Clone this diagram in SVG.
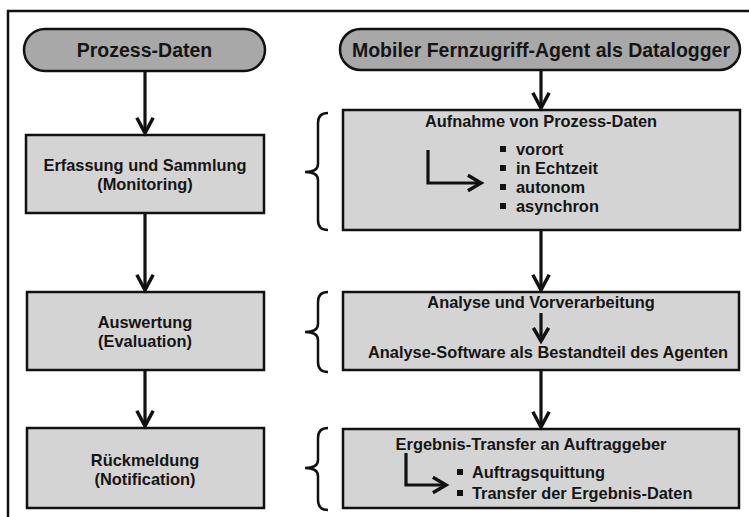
<svg xmlns="http://www.w3.org/2000/svg" width="749" height="517" viewBox="0 0 749 517">
<defs>
<marker id="ah" markerUnits="userSpaceOnUse" markerWidth="24" markerHeight="24" viewBox="-18 -10 22 20" refX="0" refY="0" orient="auto">
<path d="M-14,-7.5 L0,0 L-14,7.5" fill="none" stroke="#111" stroke-width="3.2"/>
</marker>
<marker id="ahs" markerUnits="userSpaceOnUse" markerWidth="24" markerHeight="24" viewBox="-18 -10 22 20" refX="0" refY="0" orient="auto">
<path d="M-12,-7 L0,0 L-12,7" fill="none" stroke="#111" stroke-width="3.2"/>
</marker>
</defs>
<style>
text{font-family:"Liberation Sans",Arial,sans-serif;font-weight:bold;fill:#151515}
.pill{fill:#a8a8a8;stroke:#111;stroke-width:2.5}
.box{fill:#d4d4d4;stroke:#111;stroke-width:2.5}
.t19{font-size:19.5px;text-anchor:middle}
.t16{font-size:16.4px;text-anchor:middle}
.l16{font-size:16.4px}
.conn{stroke:#111;stroke-width:3.2;fill:none;marker-end:url(#ah)}
.inner{stroke:#111;stroke-width:3.2;fill:none;marker-end:url(#ahs)}
.brace{stroke:#111;stroke-width:2.5;fill:none}
.bul{fill:#111}
</style>
<rect x="8" y="11" width="760" height="530" fill="none" stroke="#111" stroke-width="2.5"/>

<g id="proz-daten">
<rect class="pill" x="24" y="29" width="241" height="42" rx="21"/>
<text class="t19" x="144.5" y="57">Prozess-Daten</text>
</g>
<g id="agent">
<rect class="pill" x="340" y="29" width="400" height="41" rx="20.5"/>
<text class="t19" x="541" y="57">Mobiler Fernzugriff-Agent als Datalogger</text>
</g>

<g id="erfassung">
<rect class="box" x="26" y="135" width="238" height="78"/>
<text class="t16" x="145" y="171">Erfassung und Sammlung</text>
<text class="t16" x="145" y="190">(Monitoring)</text>
</g>
<g id="auswertung">
<rect class="box" x="27" y="292" width="237" height="78"/>
<text class="t16" x="145" y="328">Auswertung</text>
<text class="t16" x="145" y="347">(Evaluation)</text>
</g>
<g id="rueckmeldung">
<rect class="box" x="27" y="428" width="237" height="80"/>
<text class="t16" x="145" y="466">Rückmeldung</text>
<text class="t16" x="145" y="485">(Notification)</text>
</g>

<g id="aufnahme">
<rect class="box" x="343" y="110" width="397" height="120"/>
<text class="t16" x="541" y="127">Aufnahme von Prozess-Daten</text>
<path class="inner" d="M428,150 L428,183 L481,183"/>
<rect class="bul" x="500" y="146" width="6" height="6"/>
<rect class="bul" x="500" y="165" width="6" height="6"/>
<rect class="bul" x="500" y="184" width="6" height="6"/>
<rect class="bul" x="500" y="203" width="6" height="6"/>
<text class="l16" x="516" y="155">vorort</text>
<text class="l16" x="516" y="174">in Echtzeit</text>
<text class="l16" x="516" y="193">autonom</text>
<text class="l16" x="516" y="212">asynchron</text>
</g>
<g id="analyse">
<rect class="box" x="343" y="292" width="396" height="78"/>
<text class="t16" x="541" y="308">Analyse und Vorverarbeitung</text>
<path class="inner" d="M541,313 L541,341"/>
<text class="t16" x="548" y="358">Analyse-Software als Bestandteil des Agenten</text>
</g>
<g id="ergebnis">
<rect class="box" x="343" y="429" width="396" height="79"/>
<text class="t16" x="531" y="450">Ergebnis-Transfer an Auftraggeber</text>
<path class="inner" d="M406,453 L406,485 L446,485"/>
<rect class="bul" x="457" y="469" width="6" height="6"/>
<rect class="bul" x="457" y="490" width="6" height="6"/>
<text class="l16" x="472" y="478">Auftragsquittung</text>
<text class="l16" x="472" y="499">Transfer der Ergebnis-Daten</text>
</g>

<g id="braces">
<path class="brace" d="M328,113 Q318,113 318,123 L318,164 Q318,172 305,172 Q318,172 318,180 L318,220 Q318,230 328,230"/>
<path class="brace" d="M328,292 Q318,292 318,302 L318,324 Q318,332 305,332 Q318,332 318,340 L318,362 Q318,372 328,372"/>
<path class="brace" d="M328,428 Q318,428 318,438 L318,460 Q318,468 305,468 Q318,468 318,476 L318,500 Q318,510 328,510"/>
</g>

<g id="connectors">
<path class="conn" d="M145,71 L145,133"/>
<path class="conn" d="M145,213 L145,290"/>
<path class="conn" d="M145,370 L145,426"/>
<path class="conn" d="M541,70 L541,108"/>
<path class="conn" d="M541,230 L541,290"/>
<path class="conn" d="M541,370 L541,427"/>
</g>
</svg>
